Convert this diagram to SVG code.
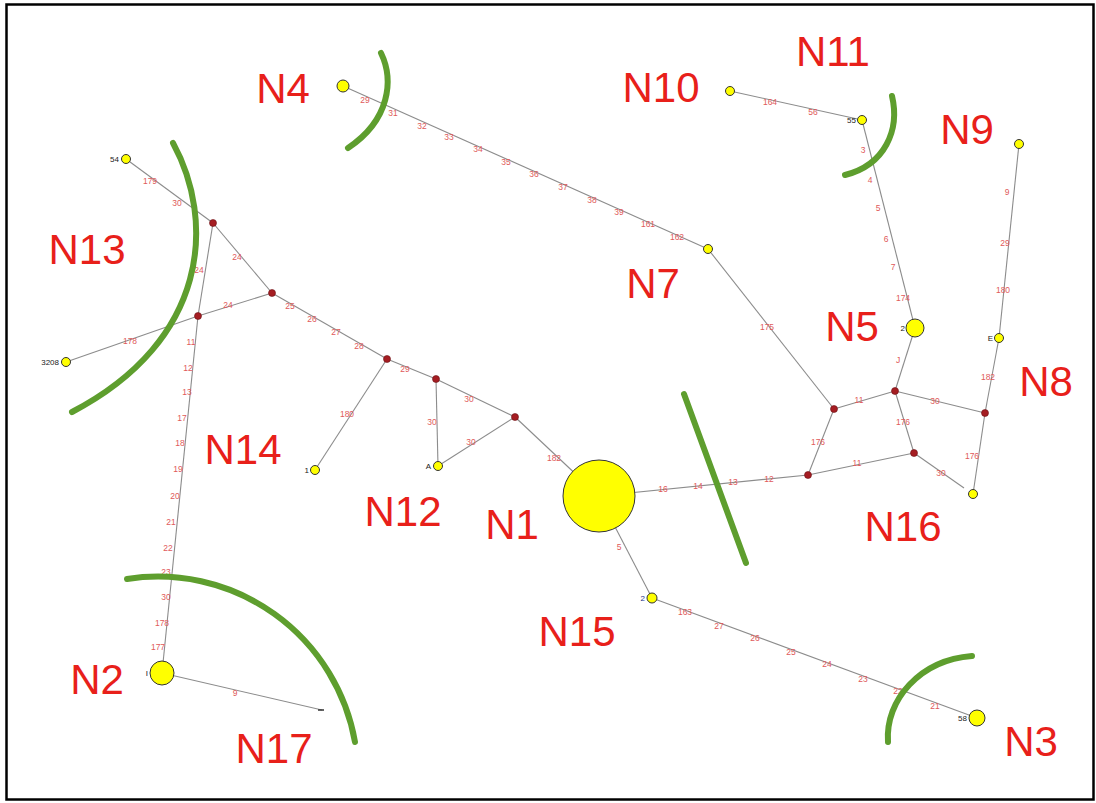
<svg xmlns="http://www.w3.org/2000/svg" width="1096" height="803" viewBox="0 0 1096 803">
<style>
.big{font-family:"Liberation Sans",Arial,sans-serif;font-size:42px;fill:#e8201a;text-anchor:middle}
.e{stroke:#8c8c8c;stroke-width:1.1;fill:none}
.lb{font-family:"Liberation Sans",Arial,sans-serif;font-size:8.5px;fill:#e05a5a;text-anchor:middle;dominant-baseline:central}
.dk{font-family:"Liberation Sans",Arial,sans-serif;font-size:8px;fill:#222;text-anchor:end;dominant-baseline:central}
.y{fill:#ffff00;stroke:#333;stroke-width:1}
.j{fill:#a51d22;stroke:#6a1015;stroke-width:0.6}
.g{stroke:#5e9e2e;stroke-width:6;fill:none;stroke-linecap:round}
</style>
<rect x="0" y="0" width="1096" height="803" fill="#fff"/>
<rect x="6.5" y="4.5" width="1087" height="795" fill="none" stroke="#000" stroke-width="2.5"/>
<g id="connectors">
<line class="e" x1="343" y1="86" x2="708" y2="249"/>
<line class="e" x1="708" y1="249" x2="834" y2="409"/>
<line class="e" x1="730" y1="91" x2="862" y2="120"/>
<line class="e" x1="862" y1="120" x2="915" y2="328"/>
<line class="e" x1="915" y1="328" x2="895" y2="391"/>
<line class="e" x1="834" y1="409" x2="895" y2="391"/>
<line class="e" x1="895" y1="391" x2="985" y2="413"/>
<line class="e" x1="895" y1="391" x2="914" y2="453"/>
<line class="e" x1="834" y1="409" x2="808" y2="475"/>
<line class="e" x1="808" y1="475" x2="914" y2="453"/>
<line class="e" x1="914" y1="453" x2="964" y2="488"/>
<line class="e" x1="985" y1="413" x2="973" y2="494"/>
<line class="e" x1="1019" y1="144" x2="999" y2="338"/>
<line class="e" x1="999" y1="338" x2="985" y2="413"/>
<line class="e" x1="599" y1="496" x2="808" y2="475"/>
<line class="e" x1="599" y1="496" x2="652" y2="598"/>
<line class="e" x1="652" y1="598" x2="977" y2="718"/>
<line class="e" x1="515" y1="417" x2="599" y2="496"/>
<line class="e" x1="436" y1="379" x2="515" y2="417"/>
<line class="e" x1="387" y1="359" x2="436" y2="379"/>
<line class="e" x1="272" y1="293" x2="387" y2="359"/>
<line class="e" x1="387" y1="359" x2="315" y2="470"/>
<line class="e" x1="436" y1="379" x2="438" y2="466"/>
<line class="e" x1="515" y1="417" x2="438" y2="466"/>
<line class="e" x1="126" y1="159" x2="213" y2="223"/>
<line class="e" x1="213" y1="223" x2="272" y2="293"/>
<line class="e" x1="213" y1="223" x2="198" y2="316"/>
<line class="e" x1="198" y1="316" x2="162" y2="673"/>
<line class="e" x1="272" y1="293" x2="198" y2="316"/>
<line class="e" x1="198" y1="316" x2="66" y2="362"/>
<line class="e" x1="162" y1="673" x2="322" y2="710"/>
<line x1="318" y1="710" x2="324" y2="710" stroke="#333" stroke-width="1.5"/>
</g>
<g id="edge-labels">
<text class="lb" x="365" y="100">29</text><text class="lb" x="393" y="113">31</text><text class="lb" x="422" y="126">32</text><text class="lb" x="449" y="137">33</text><text class="lb" x="478" y="149">34</text><text class="lb" x="506" y="162">35</text><text class="lb" x="534" y="174">36</text><text class="lb" x="563" y="187">37</text><text class="lb" x="592" y="200">38</text><text class="lb" x="619" y="212">39</text><text class="lb" x="648" y="224">161</text><text class="lb" x="677" y="237">162</text>
<text class="lb" x="767" y="327">175</text>
<text class="lb" x="770" y="102">164</text><text class="lb" x="813" y="112">56</text>
<text class="lb" x="863" y="150">3</text><text class="lb" x="870" y="180">4</text><text class="lb" x="878" y="208">5</text><text class="lb" x="886" y="239">6</text><text class="lb" x="893" y="267">7</text><text class="lb" x="903" y="298">174</text>
<text class="lb" x="898" y="360">J</text>
<text class="lb" x="859" y="400">11</text><text class="lb" x="935" y="401">30</text><text class="lb" x="903" y="422">176</text><text class="lb" x="818" y="442">176</text><text class="lb" x="857" y="463">11</text><text class="lb" x="941" y="473">30</text><text class="lb" x="972" y="456">176</text><text class="lb" x="988" y="377">182</text>
<text class="lb" x="1007" y="192">9</text><text class="lb" x="1005" y="243">29</text><text class="lb" x="1003" y="290">180</text>
<text class="lb" x="628" y="492" style="fill:#d98a00">10</text><text class="lb" x="663" y="489">16</text><text class="lb" x="698" y="486">14</text><text class="lb" x="733" y="482">13</text><text class="lb" x="769" y="479">12</text>
<text class="lb" x="619" y="547">5</text>
<text class="lb" x="685" y="612">163</text><text class="lb" x="719" y="626">27</text><text class="lb" x="755" y="638">26</text><text class="lb" x="791" y="652">25</text><text class="lb" x="827" y="664">24</text><text class="lb" x="863" y="679">23</text><text class="lb" x="898" y="691">22</text><text class="lb" x="935" y="706">21</text>
<text class="lb" x="290" y="306">25</text><text class="lb" x="312" y="319">26</text><text class="lb" x="336" y="332">27</text><text class="lb" x="359" y="346">28</text><text class="lb" x="405" y="369">29</text><text class="lb" x="469" y="399">30</text><text class="lb" x="554" y="458">182</text>
<text class="lb" x="347" y="414">180</text><text class="lb" x="432" y="422">30</text><text class="lb" x="471" y="442">30</text>
<text class="lb" x="150" y="181">179</text><text class="lb" x="177" y="203">30</text><text class="lb" x="237" y="257">24</text><text class="lb" x="199" y="270">24</text><text class="lb" x="228" y="305">24</text><text class="lb" x="130" y="341">178</text><text class="lb" x="191" y="342">11</text>
<text class="lb" x="188" y="368">12</text><text class="lb" x="187" y="392">13</text><text class="lb" x="182" y="418">17</text><text class="lb" x="180" y="443">18</text><text class="lb" x="178" y="469">19</text><text class="lb" x="175" y="496">20</text><text class="lb" x="171" y="522">21</text><text class="lb" x="168" y="548">22</text><text class="lb" x="166" y="572">23</text><text class="lb" x="166" y="597">30</text><text class="lb" x="162" y="623">178</text><text class="lb" x="158" y="647">177</text>
<text class="lb" x="235" y="693">9</text>
</g>
<g id="barriers">
<path class="g" d="M381,53 C394,80 390,120 348,148"/>
<path class="g" d="M892,96 C900,130 885,165 845,175"/>
<path class="g" d="M173,143 C215,220 210,340 72,412"/>
<path class="g" d="M684,394 L746,563"/>
<path class="g" d="M127,579 A200,200 0 0 1 355,742"/>
<path class="g" d="M972,656 C920,660 885,700 888,742"/>
</g>
<g id="N1"><circle class="y" cx="599" cy="496" r="36"/><text class="big" x="512" y="539">N1</text></g>
<g id="N2"><circle class="y" cx="162" cy="673" r="12"/><text class="dk" x="148" y="673">I</text><text class="big" x="97" y="694">N2</text></g>
<g id="N3"><circle class="y" cx="977" cy="718" r="8"/><text class="dk" x="967" y="718">58</text><text class="big" x="1031" y="756">N3</text></g>
<g id="N4"><circle class="y" cx="343" cy="86" r="6"/><text class="big" x="283" y="103">N4</text></g>
<g id="N5"><circle class="y" cx="915" cy="328" r="9"/><text class="dk" x="905" y="328">2</text><text class="big" x="852" y="341">N5</text></g>
<g id="N7"><circle class="y" cx="708" cy="249" r="4.5"/><text class="big" x="653" y="298">N7</text></g>
<g id="N8"><circle class="y" cx="999" cy="338" r="4.5"/><text class="dk" x="993" y="338">E</text><text class="big" x="1046" y="396">N8</text></g>
<g id="N9"><circle class="y" cx="1019" cy="144" r="4.5"/><text class="big" x="967" y="144">N9</text></g>
<g id="N10"><circle class="y" cx="730" cy="91" r="4.5"/><text class="big" x="661" y="102">N10</text></g>
<g id="N11"><circle class="y" cx="862" cy="120" r="4.5"/><text class="dk" x="856" y="120">55</text><text class="big" x="833" y="66">N11</text></g>
<g id="N12"><circle class="y" cx="438" cy="466" r="4.5"/><text class="dk" x="431" y="466">A</text><text class="big" x="403" y="526">N12</text></g>
<g id="N13"><circle class="y" cx="126" cy="159" r="4.5"/><text class="dk" x="119" y="159">54</text><circle class="y" cx="66" cy="362" r="4.5"/><text class="dk" x="59" y="362">3208</text><text class="big" x="87" y="264">N13</text></g>
<g id="N14"><circle class="y" cx="315" cy="470" r="4.5"/><text class="dk" x="309" y="470">1</text><text class="big" x="243" y="464">N14</text></g>
<g id="N15"><circle class="y" cx="652" cy="598" r="5"/><text class="dk" x="645" y="598" style="fill:#223388">2</text><text class="big" x="577" y="646">N15</text></g>
<g id="N16"><circle class="y" cx="973" cy="494" r="4.5"/><text class="big" x="903" y="541">N16</text></g>
<g id="N17"><text class="big" x="274" y="763">N17</text></g>
<g id="junctions">
<circle class="j" cx="834" cy="409" r="3.5"/><circle class="j" cx="895" cy="391" r="3.5"/><circle class="j" cx="985" cy="413" r="3.5"/><circle class="j" cx="914" cy="453" r="3.5"/><circle class="j" cx="808" cy="475" r="3.5"/>
<circle class="j" cx="515" cy="417" r="3.5"/><circle class="j" cx="436" cy="379" r="3.5"/><circle class="j" cx="387" cy="359" r="3.5"/><circle class="j" cx="272" cy="293" r="3.5"/><circle class="j" cx="213" cy="223" r="3.5"/><circle class="j" cx="198" cy="316" r="3.5"/>
</g>
</svg>
